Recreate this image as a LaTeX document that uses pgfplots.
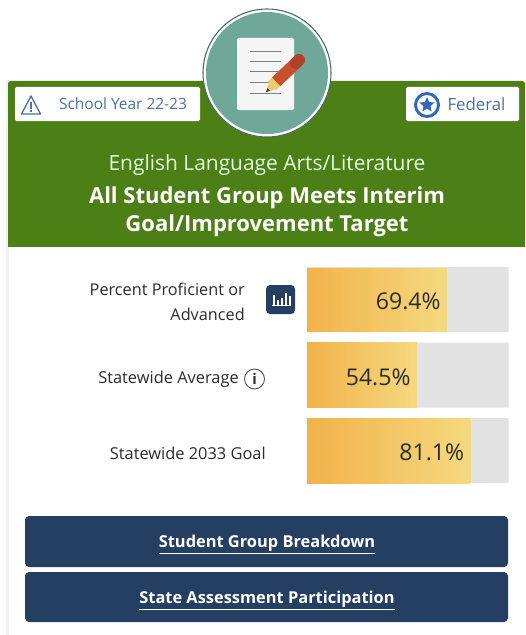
\documentclass[border=0pt]{standalone}
\usepackage{fontspec}
\setmainfont{Open Sans}
\usepackage{pgfplots}
\pgfplotsset{compat=1.18}
\usetikzlibrary{shapes.geometric}
\definecolor{hdrgreen}{HTML}{4D7F17}
\definecolor{navy}{HTML}{253F63}
\definecolor{teal1}{HTML}{6FA898}
\definecolor{track}{HTML}{E2E2E2}
\definecolor{barL}{HTML}{F2B24A}
\definecolor{barR}{HTML}{F5D97F}
\definecolor{chipblue}{HTML}{4F6FA8}
\definecolor{starblue}{HTML}{2F68BE}
\definecolor{txt}{HTML}{2B2B2B}
\definecolor{pencil}{HTML}{C9502F}
\definecolor{pencilend}{HTML}{B0402A}
\definecolor{penciltip}{HTML}{EBCB6B}
\newcommand{\fs}[1]{\fontsize{#1}{#1}\selectfont}

\begin{document}
\begin{tikzpicture}[x=0.75pt,y=-0.75pt]
\useasboundingbox (0,0) rectangle (525,635);
\fill[white] (0,0) rectangle (525,635);
% panel
\fill[gray!12] (6,80) rectangle (9,635);
\fill[hdrgreen] (8,84) rectangle (525,247);
\fill[hdrgreen,rounded corners=2pt] (8,90) -- (8,81) -- (525,81) -- (525,90) -- cycle;
% chips
\fill[white,rounded corners=1pt] (15,87) rectangle (200,121);
\fill[white,rounded corners=1pt] (406,87) rectangle (519,121);
\draw[chipblue,line width=1pt,line join=round] (31,96) -- (40.5,114) -- (21.5,114) -- cycle;
\fill[chipblue] (30.2,102) rectangle (31.8,108.5);
\fill[chipblue] (30.2,110) rectangle (31.8,112);
\node[anchor=center,text=chipblue] at (123,103.5) {\fs{11.6}School Year 22-23};
\draw[starblue,line width=2.2pt] (427,105) circle[radius=11.5];
\node[star,star points=5,star point ratio=2.2,fill=starblue,inner sep=0pt,minimum size=12pt] at (427,105) {};
\node[anchor=center,text=chipblue] at (476.5,104.5) {\fs{12.6}Federal};
% badge
\fill[white] (267,73) circle[radius=64];
\draw[black!35!teal1,line width=0.8pt] (267,73) circle[radius=64];
\fill[teal1] (267,73) circle[radius=61];
\fill[black!4,rounded corners=1pt] (237,38) rectangle (294,110);
\foreach \yy in {51,61,71,82,93} \draw[gray,line width=0.6pt] (250,\yy) -- (281,\yy);
\draw[line width=9pt,pencil] (276,82) -- (297,62);
\draw[line width=9pt,pencilend,line cap=round] (296,63) -- (299,60);
\draw[line width=9pt,penciltip] (272,86) -- (276,82);
\fill[penciltip] (268.8,82.8) -- (275.2,89.2) -- (266,92) -- cycle;
\fill[black!75] (267.5,88) -- (270,91) -- (266,92) -- cycle;
% heading
\node[text=white!88!green] at (267,165.5) {\fs{15.7}English Language Arts/Literature};
\node[text=white] at (267,198) {\fs{16.5}\bfseries All Student Group Meets Interim};
\node[text=white] at (267,226) {\fs{16.5}\bfseries Goal/Improvement Target};
% row labels
\node[anchor=east,text=txt,inner sep=0pt] at (245,289.5) {\fs{12.2}Percent Proficient or};
\node[anchor=east,text=txt,inner sep=0pt] at (245,314.5) {\fs{12.2}Advanced};
\node[anchor=east,text=txt,inner sep=0pt] at (239,379.5) {\fs{12.3}Statewide Average};
\node[anchor=east,text=txt,inner sep=0pt] at (266,453) {\fs{12.3}Statewide 2033 Goal};
% icons
\fill[navy,rounded corners=3pt] (266,285) rectangle (295,314);
\foreach \xa/\ya in {274/295,278/300,282/298,286/293,290/296}
  \fill[white] (\xa-1,\ya) rectangle (\xa+0.5,305);
\fill[white] (272,305) rectangle (291,306.2);
\draw[txt!80,line width=0.7pt] (254.5,379) circle[radius=10];
\node[text=txt,inner sep=0pt] at (254.5,379) {\fs{11}\bfseries i};
% buttons
\fill[navy,rounded corners=3pt] (25,516) rectangle (508,567);
\fill[navy,rounded corners=3pt] (25,572) rectangle (508,622);
\node[text=white] at (267,545) {\fs{12.3}\bfseries\underline{Student Group Breakdown}};
\node[text=white] at (267,601) {\fs{12.3}\bfseries\underline{State Assessment Participation}};

\begin{axis}[
  at={(230.25pt,-366.1875pt)},anchor=south west,
  scale only axis,
  width=151.125pt,height=169.875pt,
  xmin=0,xmax=100,ymin=-0.5,ymax=2.5,
  y dir=reverse,
  hide axis,
  clip=false,
  xbar,
  bar shift=0pt,
  bar width=48.75pt,
  /pgf/number format/assume math mode=true,
  every node near coord/.append style={
    anchor=east,text=txt,font=\fs{17.3},inner sep=0pt,xshift=-4.5pt,yshift=-1.5pt},
]
\addplot[draw=none,fill=track] coordinates {(100,0) (100,1) (100,2)};
\addplot[draw=none,left color=barL,right color=barR,bar width=47.25pt,
  nodes near coords={\pgfmathprintnumber[fixed,fixed zerofill,precision=1]{\pgfplotspointmeta}\%},
  point meta=x] coordinates {(69.4,0)};
\addplot[draw=none,left color=barL,right color=barR,
  nodes near coords={\pgfmathprintnumber[fixed,fixed zerofill,precision=1]{\pgfplotspointmeta}\%},
  point meta=x] coordinates {(54.5,1)};
\addplot[draw=none,left color=barL,right color=barR,
  nodes near coords={\pgfmathprintnumber[fixed,fixed zerofill,precision=1]{\pgfplotspointmeta}\%},
  point meta=x] coordinates {(81.1,2)};
\end{axis}
\end{tikzpicture}
\end{document}
